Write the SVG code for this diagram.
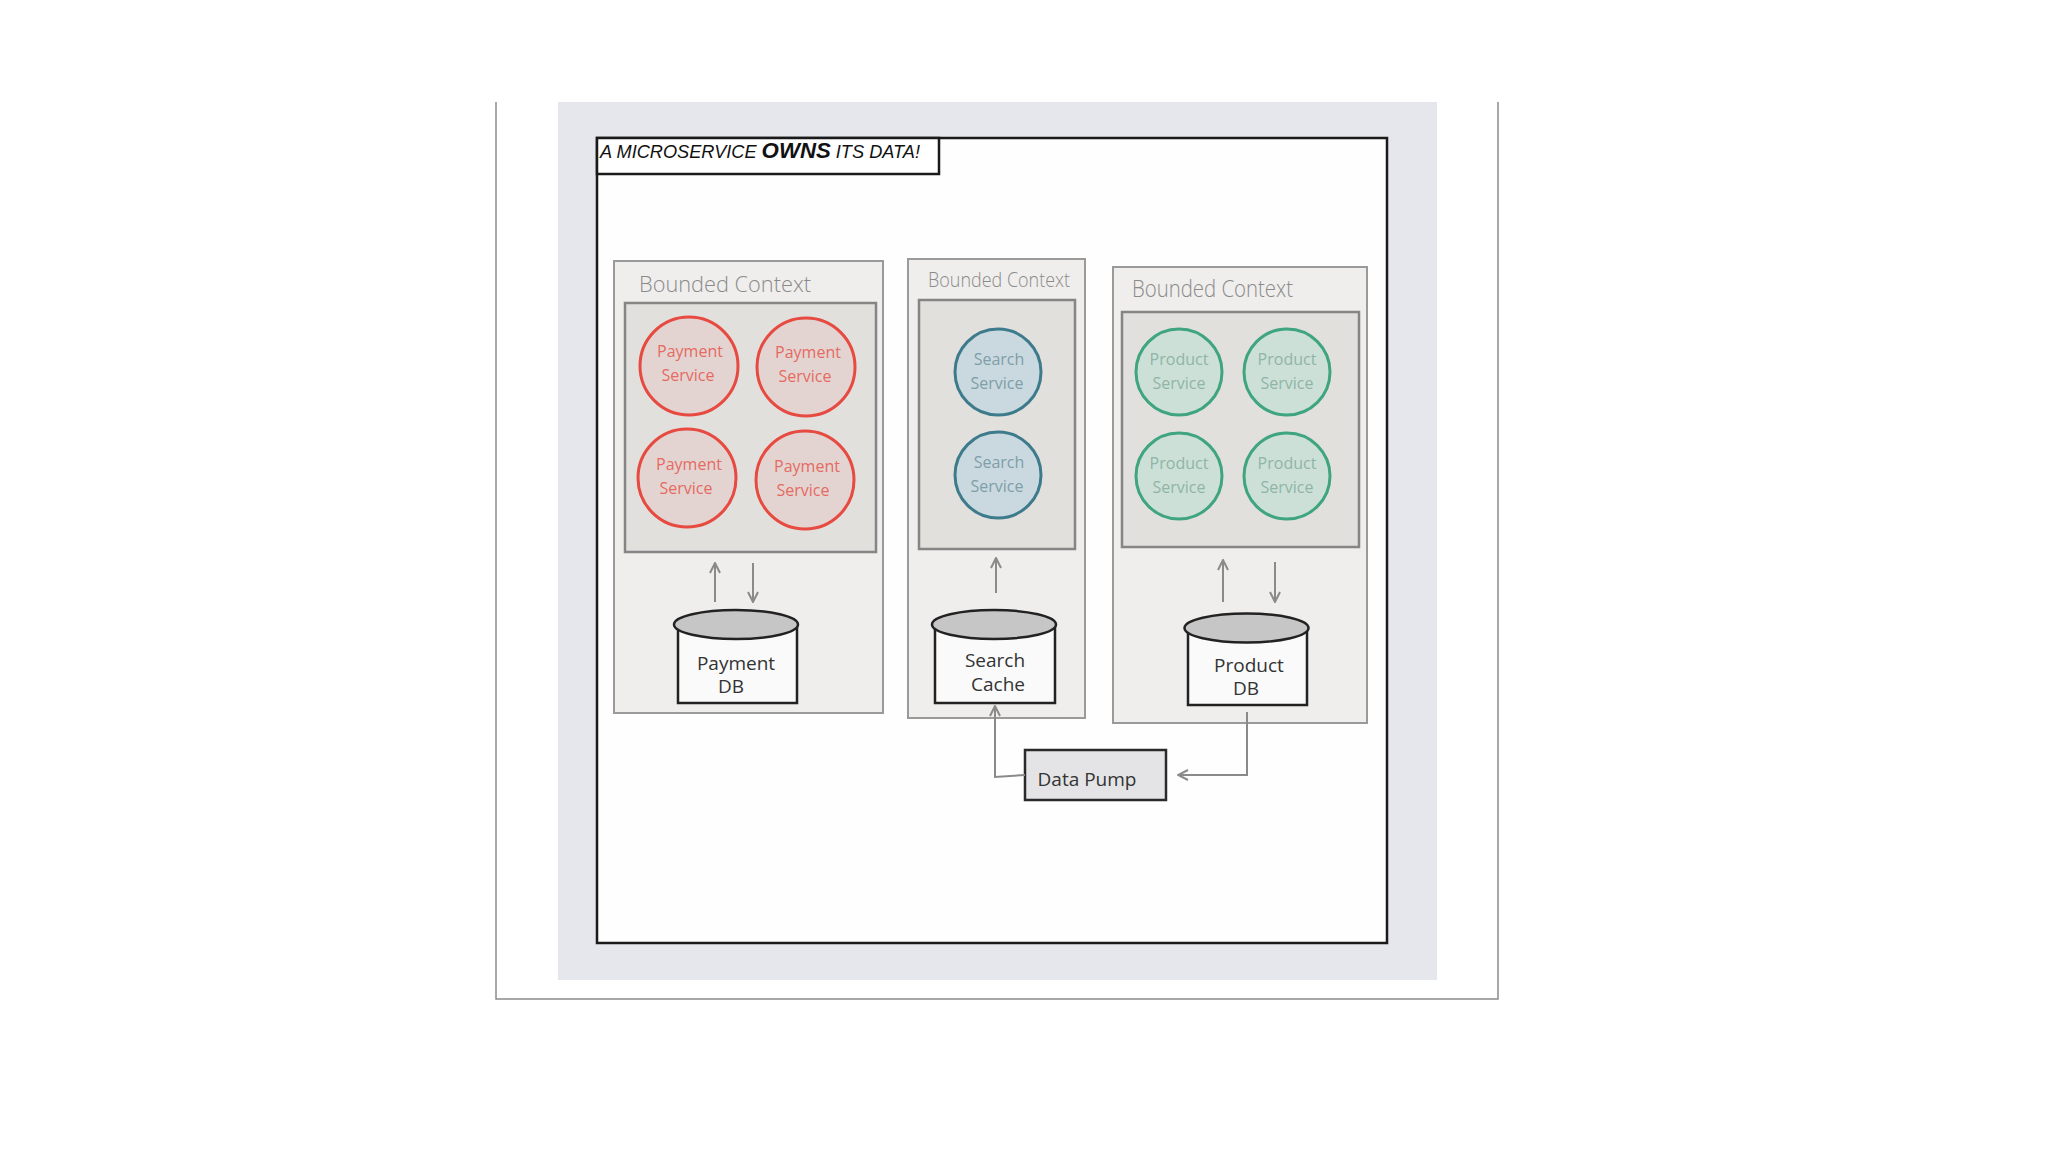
<svg xmlns="http://www.w3.org/2000/svg" width="2048" height="1152" viewBox="0 0 2048 1152">
<style>
.bc{fill:#efeeed;stroke:#9a9a9a;stroke-width:2}
.inner{fill:#e2e0dd;stroke:#858585;stroke-width:2.5}
.bcl{font-family:"Open Sans","DejaVu Sans",sans-serif;font-weight:300;fill:#8a8a8a}
.svc{font-family:"Open Sans","DejaVu Sans",sans-serif;font-weight:400;font-size:16px;text-anchor:middle}
.pay circle{fill:#e4d4d1;stroke:#e64a40;stroke-width:3}
.pay text{fill:#e46a62}
.srch circle{fill:#c9d9df;stroke:#3d7b8c;stroke-width:3}
.srch text{fill:#7f9ea8}
.prod circle{fill:#cde0d8;stroke:#3ea57e;stroke-width:3}
.prod text{fill:#8fb5a6}
.cyl-top{fill:#c6c6c6;stroke:#222;stroke-width:2.5}
.cyl-body{fill:#fafafa;stroke:#222;stroke-width:2.5}
.lbl{font-family:"Open Sans","DejaVu Sans",sans-serif;font-size:19px;fill:#333;text-anchor:middle}
.conn{fill:none;stroke:#8a8a8a;stroke-width:2}
</style>
<defs>
<marker id="ah" viewBox="0 0 12 12" refX="11" refY="6" markerWidth="12" markerHeight="12" markerUnits="userSpaceOnUse" orient="auto">
<path d="M1,1 L11,6 L1,11" fill="none" stroke="#8a8a8a" stroke-width="2"/>
</marker>
</defs>
<rect width="2048" height="1152" fill="#ffffff"/>
<g id="frame">
<path d="M496,102 V999 H1498 V102" fill="none" stroke="#8c8c8c" stroke-width="1.5"/>
<rect x="558" y="102" width="879" height="878" fill="#e6e7ec"/>
<rect x="597" y="138" width="790" height="805" fill="#fefefe" stroke="#1a1a1a" stroke-width="2.5"/>
</g>
<g id="title">
<rect x="597" y="138" width="342" height="36" fill="#ffffff" stroke="#1a1a1a" stroke-width="2.5"/>
<text x="600" y="158" font-family="Liberation Sans, Arial, sans-serif" font-style="italic" font-size="18" fill="#111" textLength="320" lengthAdjust="spacingAndGlyphs">A MICROSERVICE <tspan font-weight="bold" font-size="22">OWNS</tspan> ITS DATA!</text>
</g>
<g id="bc-payment">
<rect class="bc" x="614" y="261" width="269" height="452"/>
<text class="bcl" x="639" y="292" font-size="22" textLength="172" lengthAdjust="spacingAndGlyphs">Bounded Context</text>
<rect class="inner" x="625" y="303" width="251" height="249"/>
</g>
<g id="payment-services" class="pay">
<g id="payment-service-1"><circle cx="689" cy="366" r="49"/><text class="svc" x="690" y="357">Payment</text><text class="svc" x="688" y="381">Service</text></g>
<g id="payment-service-2"><circle cx="806" cy="367" r="49"/><text class="svc" x="808" y="358">Payment</text><text class="svc" x="805" y="382">Service</text></g>
<g id="payment-service-3"><circle cx="687" cy="478" r="49"/><text class="svc" x="689" y="470">Payment</text><text class="svc" x="686" y="494">Service</text></g>
<g id="payment-service-4"><circle cx="805" cy="480" r="49"/><text class="svc" x="807" y="472">Payment</text><text class="svc" x="803" y="496">Service</text></g>
</g>
<g id="payment-db">
<path class="cyl-body" d="M678,624 V703 H797 V624"/>
<ellipse class="cyl-top" cx="736" cy="624.5" rx="62" ry="14.5"/>
<text class="lbl" x="736" y="670">Payment</text>
<text class="lbl" x="731" y="693">DB</text>
</g>
<g id="bc-search">
<rect class="bc" x="908" y="259" width="177" height="459"/>
<text class="bcl" x="928" y="287" font-size="20" textLength="142" lengthAdjust="spacingAndGlyphs">Bounded Context</text>
<rect class="inner" x="919" y="300" width="156" height="249"/>
</g>
<g id="search-services" class="srch">
<g id="search-service-1"><circle cx="998" cy="372" r="43"/><text class="svc" x="999" y="365">Search</text><text class="svc" x="997" y="389">Service</text></g>
<g id="search-service-2"><circle cx="998" cy="475" r="43"/><text class="svc" x="999" y="468">Search</text><text class="svc" x="997" y="492">Service</text></g>
</g>
<g id="search-cache">
<path class="cyl-body" d="M935,624 V703 H1055 V624"/>
<ellipse class="cyl-top" cx="994" cy="624.5" rx="62" ry="14.5"/>
<text class="lbl" x="995" y="667">Search</text>
<text class="lbl" x="998" y="691">Cache</text>
</g>
<g id="bc-product">
<rect class="bc" x="1113" y="267" width="254" height="456"/>
<text class="bcl" x="1132" y="297" font-size="23" textLength="161" lengthAdjust="spacingAndGlyphs">Bounded Context</text>
<rect class="inner" x="1122" y="312" width="237" height="235"/>
</g>
<g id="product-services" class="prod">
<g id="product-service-1"><circle cx="1179" cy="372" r="43"/><text class="svc" x="1179" y="365">Product</text><text class="svc" x="1179" y="389">Service</text></g>
<g id="product-service-2"><circle cx="1287" cy="372" r="43"/><text class="svc" x="1287" y="365">Product</text><text class="svc" x="1287" y="389">Service</text></g>
<g id="product-service-3"><circle cx="1179" cy="476" r="43"/><text class="svc" x="1179" y="469">Product</text><text class="svc" x="1179" y="493">Service</text></g>
<g id="product-service-4"><circle cx="1287" cy="476" r="43"/><text class="svc" x="1287" y="469">Product</text><text class="svc" x="1287" y="493">Service</text></g>
</g>
<g id="product-db">
<path class="cyl-body" d="M1188,628 V705 H1307 V628"/>
<ellipse class="cyl-top" cx="1246.5" cy="628" rx="62" ry="14.5"/>
<text class="lbl" x="1249" y="672">Product</text>
<text class="lbl" x="1246" y="695">DB</text>
</g>
<g id="data-pump">
<rect x="1025" y="750" width="141" height="50" fill="#e4e4e6" stroke="#2a2a2a" stroke-width="2.5"/>
<text class="lbl" x="1087" y="786">Data Pump</text>
</g>
<g id="connectors">
<line class="conn" x1="715" y1="602" x2="715" y2="563" marker-end="url(#ah)"/>
<line class="conn" x1="753" y1="563" x2="753" y2="602" marker-end="url(#ah)"/>
<line class="conn" x1="996" y1="593" x2="996" y2="558" marker-end="url(#ah)"/>
<line class="conn" x1="1223" y1="602" x2="1223" y2="560" marker-end="url(#ah)"/>
<line class="conn" x1="1275" y1="562" x2="1275" y2="602" marker-end="url(#ah)"/>
<polyline class="conn" points="1025,775 995,777 995,706" marker-end="url(#ah)"/>
<polyline class="conn" points="1247,712 1247,775 1178,775" marker-end="url(#ah)"/>
</g>
</svg>
